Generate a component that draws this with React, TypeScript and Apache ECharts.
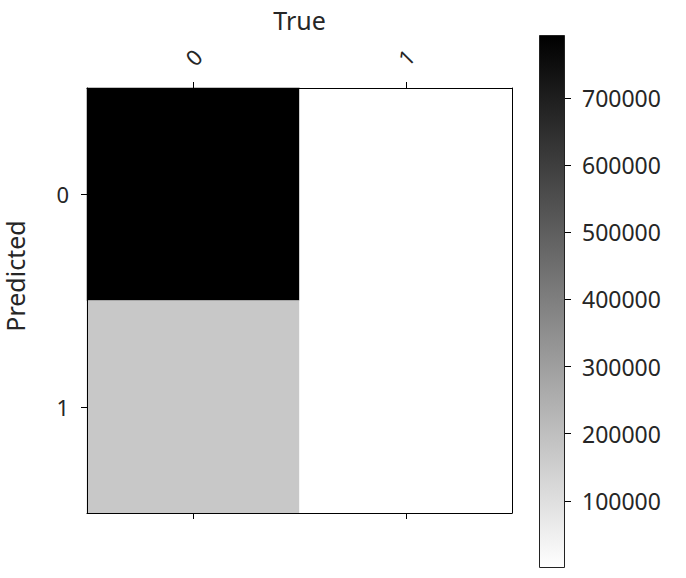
import React, { useEffect, useRef } from "react";
import * as echarts from "echarts";

const trueLabels = ["0", "1"];
const predictedLabels = ["0", "1"];
// rows: predicted, columns: true
const predicted0Values = [794000, 1000];
const predicted1Values = [171000, 500];
const colorbarMax = 794000;
const colorbarTicks = [100000, 200000, 300000, 400000, 500000, 600000, 700000];

const FONT = "Noto Sans";
const TXT = "#262626";

export default function App() {
  const ref = useRef<HTMLDivElement>(null);
  useEffect(() => {
    if (!ref.current) return;
    const chart = echarts.init(ref.current, undefined, { renderer: "svg" });
    const rows = [predicted0Values, predicted1Values];
    const data: number[][] = [];
    rows.forEach((row, yi) => row.forEach((v, xi) => data.push([xi, yi, v])));
    chart.setOption({
      animation: false,
      backgroundColor: "#ffffff",
      textStyle: { fontFamily: FONT },
      grid: [
        { left: 87, top: 88, width: 425, height: 425, outerBoundsMode: "none", containLabel: false },
        { left: 539, top: 35, width: 26, height: 533, outerBoundsMode: "none", containLabel: false },
      ],
      graphic: [
        {
          type: "text",
          x: 15,
          y: 276,
          rotation: Math.PI / 2,
          style: {
            text: "Predicted",
            fontSize: 25,
            fontFamily: FONT,
            fill: TXT,
            align: "center",
            verticalAlign: "middle",
          },
        },
      ],
      visualMap: {
        show: false,
        seriesIndex: 0,
        dimension: 2,
        min: 0,
        max: colorbarMax,
        inRange: { color: ["#ffffff", "#000000"] },
      },
      xAxis: [
        {
          type: "category",
          gridIndex: 0,
          data: trueLabels,
          position: "top",
          z: 10,
          name: "True",
          nameLocation: "middle",
          nameGap: 56,
          nameTextStyle: { fontSize: 25, color: TXT, fontFamily: FONT },
          axisLine: { show: true, lineStyle: { color: "#000", width: 1 } },
          axisTick: { show: true, alignWithLabel: true, length: 6, lineStyle: { color: "#000" } },
          axisLabel: {
            rotate: -45,
            fontSize: 22,
            color: TXT,
            margin: 31,
            align: "center",
            verticalAlign: "middle",
            fontFamily: FONT,
          },
          splitLine: { show: false },
        },
        {
          type: "category",
          gridIndex: 0,
          data: trueLabels,
          position: "bottom",
          z: 10,
          axisLine: { show: true, lineStyle: { color: "#000", width: 1 } },
          axisTick: { show: true, alignWithLabel: true, length: 6, lineStyle: { color: "#000" } },
          axisLabel: { show: false },
          splitLine: { show: false },
        },
        {
          type: "category",
          gridIndex: 1,
          data: ["cb"],
          show: false,
        },
      ],
      yAxis: [
        {
          type: "category",
          gridIndex: 0,
          data: predictedLabels,
          inverse: true,
          position: "left",
          z: 10,
          axisLine: { show: true, lineStyle: { color: "#000", width: 1 } },
          axisTick: { show: true, alignWithLabel: true, length: 6, lineStyle: { color: "#000" } },
          axisLabel: { fontSize: 22, color: TXT, margin: 18, fontFamily: FONT },
          splitLine: { show: false },
        },
        {
          type: "category",
          gridIndex: 0,
          data: predictedLabels,
          inverse: true,
          position: "right",
          z: 10,
          axisLine: { show: true, lineStyle: { color: "#000", width: 1 } },
          axisTick: { show: false },
          axisLabel: { show: false },
          splitLine: { show: false },
        },
        {
          type: "value",
          gridIndex: 1,
          position: "right",
          min: 0,
          max: colorbarMax,
          z: 10,
          axisLine: { show: false },
          axisTick: {
            show: true,
            length: 6,
            customValues: colorbarTicks,
            lineStyle: { color: "#000" },
          },
          axisLabel: {
            fontSize: 23,
            color: TXT,
            margin: 17,
            customValues: colorbarTicks,
            fontFamily: FONT,
            formatter: (v: number) => String(v),
          },
          splitLine: { show: false },
        },
      ],
      series: [
        {
          type: "heatmap",
          xAxisIndex: 0,
          yAxisIndex: 0,
          data,
          itemStyle: { borderWidth: 0 },
          emphasis: { disabled: true },
        },
        {
          type: "bar",
          xAxisIndex: 2,
          yAxisIndex: 2,
          data: [colorbarMax],
          barWidth: "100%",
          silent: true,
          itemStyle: {
            borderColor: "#222",
            borderWidth: 1,
            color: new echarts.graphic.LinearGradient(0, 0, 0, 1, [
              { offset: 0, color: "#000000" },
              { offset: 1, color: "#ffffff" },
            ]),
          },
        },
      ],
    });
    return () => chart.dispose();
  }, []);
  return (
    <div
      ref={ref}
      style={{ position: "fixed", left: 0, top: 0, width: 686, height: 578 }}
    />
  );
}
